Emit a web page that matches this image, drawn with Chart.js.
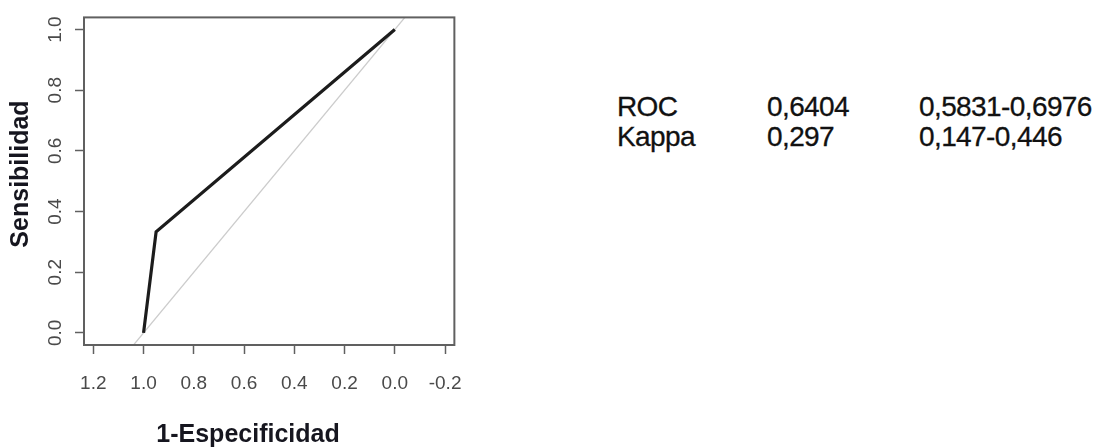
<!DOCTYPE html>
<html>
<head>
<meta charset="utf-8">
<script src="https://cdn.jsdelivr.net/npm/chart.js@4.4.0/dist/chart.umd.min.js"></script>
<style>
  html, body { margin: 0; padding: 0; background: #fff; }
  body { width: 1096px; height: 447px; position: relative; overflow: hidden; }
  #wrap { position: absolute; left: 0; top: 0; width: 480px; height: 447px; }
  .stat {
    position: absolute;
    font-family: "Liberation Sans", Arial, sans-serif;
    font-size: 28px;
    line-height: 30px;
    color: #111;
    letter-spacing: -0.6px;
    -webkit-text-stroke: 0.3px #111;
    white-space: nowrap;
  }
</style>
</head>
<body>
<div id="wrap"><canvas id="roc"></canvas></div>

<script>
// curva ROC
const especificidad = [1.0, 0.95, 0.0];
const sensibilidad = [0.0, 0.333, 1.0];

// diagonal de referencia (sens = 1 - esp)
const diagEsp = [1.3, -0.3];
const diagSens = [-0.3, 1.3];

const xTicks = [1.2, 1.0, 0.8, 0.6, 0.4, 0.2, 0.0, -0.2];
const yTicks = [0.0, 0.2, 0.4, 0.6, 0.8, 1.0];

// tabla de la derecha
const statNames = ["ROC", "Kappa"];
const statValues = ["0,6404", "0,297"];
const statIntervals = ["0,5831-0,6976", "0,147-0,446"];

const colLeft = [617, 767, 919];
const rowTop = [92, 122];
statNames.forEach((name, i) => {
  [name, statValues[i], statIntervals[i]].forEach((txt, j) => {
    const d = document.createElement("div");
    d.className = "stat";
    d.style.left = colLeft[j] + "px";
    d.style.top = rowTop[i] + "px";
    d.textContent = txt;
    document.body.appendChild(d);
  });
});

const tickFont = { family: "'Liberation Sans', Arial", size: 19 };

const boxPlugin = {
  id: "box",
  afterDraw(chart) {
    const { ctx, chartArea: a } = chart;
    ctx.save();
    ctx.strokeStyle = "#606060";
    ctx.lineWidth = 2;
    ctx.strokeRect(a.left, a.top, a.right - a.left, a.bottom - a.top);

    ctx.fillStyle = "#16161f";
    ctx.font = "bold 25px 'Liberation Sans', Arial";
    ctx.textAlign = "center";
    ctx.textBaseline = "middle";
    ctx.fillText("1-Especificidad", 248, 435);

    ctx.translate(21, 174);
    ctx.rotate(-Math.PI / 2);
    ctx.fillText("Sensibilidad", 0, 0);
    ctx.restore();
  }
};

new Chart(document.getElementById("roc"), {
  type: "scatter",
  data: {
    datasets: [
      {
        data: especificidad.map((x, i) => ({ x, y: sensibilidad[i] })),
        showLine: true,
        borderColor: "#1c1c1c",
        borderWidth: 3.2,
        pointRadius: 0
      },
      {
        data: diagEsp.map((x, i) => ({ x, y: diagSens[i] })),
        showLine: true,
        borderColor: "#cccccc",
        borderWidth: 1.3,
        pointRadius: 0,
        clip: 0
      }
    ]
  },
  options: {
    responsive: true,
    maintainAspectRatio: false,
    animation: false,
    layout: { padding: { left: 0, top: 14, right: 22, bottom: 0 } },
    plugins: { legend: { display: false }, tooltip: { enabled: false } },
    scales: {
      x: {
        type: "linear",
        reverse: true,
        min: -0.237,
        max: 1.237,
        afterBuildTicks: (s) => { s.ticks = xTicks.map((v) => ({ value: v })); },
        afterFit: (s) => { s.height = 102; },
        ticks: {
          autoSkip: false,
          maxRotation: 0,
          padding: 18,
          color: "#4a4a4a",
          font: tickFont,
          callback: (v) => Number(v).toFixed(1)
        },
        grid: { drawOnChartArea: false, tickLength: 9, tickColor: "#606060", tickWidth: 1.5 },
        border: { display: false }
      },
      y: {
        type: "linear",
        min: -0.04,
        max: 1.04,
        afterBuildTicks: (s) => { s.ticks = yTicks.map((v) => ({ value: v })); },
        afterFit: (s) => { s.width = 84; },
        ticks: {
          autoSkip: false,
          minRotation: 90,
          maxRotation: 90,
          crossAlign: "center",
          padding: 6,
          color: "#4a4a4a",
          font: tickFont,
          callback: (v) => Number(v).toFixed(1)
        },
        grid: { drawOnChartArea: false, tickLength: 9, tickColor: "#606060", tickWidth: 1.5 },
        border: { display: false }
      }
    }
  },
  plugins: [boxPlugin]
});
</script>
</body>
</html>
